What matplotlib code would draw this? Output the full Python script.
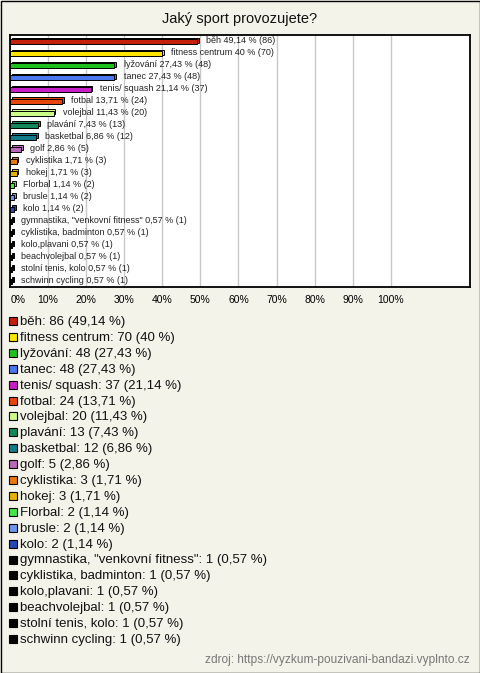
import matplotlib
matplotlib.use("Agg")
import matplotlib.pyplot as plt
from matplotlib.patches import Rectangle
from matplotlib.transforms import ScaledTranslation

plt.rcParams['font.family'] = ['Liberation Sans', 'DejaVu Sans']

categories = ['běh', 'fitness centrum', 'lyžování', 'tanec', 'tenis/ squash', 'fotbal',
              'volejbal', 'plavání', 'basketbal', 'golf', 'cyklistika', 'hokej',
              'Florbal', 'brusle', 'kolo', 'gymnastika, "venkovní fitness"',
              'cyklistika, badminton', 'kolo,plavani', 'beachvolejbal',
              'stolní tenis, kolo', 'schwinn cycling']
counts = [86, 70, 48, 48, 37, 24, 20, 13, 12, 5, 3, 3, 2, 2, 2, 1, 1, 1, 1, 1, 1]
percents = [49.14, 40, 27.43, 27.43, 21.14, 13.71, 11.43, 7.43, 6.86, 2.86, 1.71, 1.71,
            1.14, 1.14, 1.14, 0.57, 0.57, 0.57, 0.57, 0.57, 0.57]
colors = ['#C4200C', '#FFE400', '#1EC01E', '#4A78EE', '#C81EC8', '#E8440E',
          '#CCFF88', '#14875A', '#137A8A', '#BB66BB', '#E87810', '#E8B000',
          '#44E844', '#6C98E8', '#2448B0'] + ['#000000'] * 6
xticks = [0, 10, 20, 30, 40, 50, 60, 70, 80, 90, 100]


def fmt(p):
    s = ('%.2f' % p).rstrip('0').rstrip('.')
    return s.replace('.', ',')


W, H = 480, 673
bg = '#F4F3EA'
fig = plt.figure(figsize=(W / 100, H / 100), dpi=100, facecolor=bg)

fig.text(240 / W, 1 - 19 / H, 'Jaký sport provozujete?', ha='center', va='center',
         fontsize=10.5, color='#111111')

ax = fig.add_axes([10 / W, 1 - 287 / H, 460 / W, 252 / H])
ax.set_facecolor('white')
n = len(categories)
ys = list(range(n))
for i in ys:
    # back face for the 3D look
    ax.barh(i - 0.12, percents[i], left=0.5, height=0.42, color=colors[i],
            edgecolor='black', linewidth=0.7, zorder=2)
    ax.barh(i, percents[i], height=0.42, color=colors[i], edgecolor='black',
            linewidth=0.7, zorder=3)
    ax.text(percents[i] + 2.4, i - 0.05, '%s %s %% (%d)' % (categories[i], fmt(percents[i]), counts[i]),
            va='center', ha='left', fontsize=6.5, color='#222222', zorder=4)

ax.set_xlim(0, 120.8)
ax.set_ylim(n - 0.5, -0.55)
ax.set_xticks(xticks)
ax.set_xticklabels(['%d%%' % t for t in xticks], fontsize=7.5)
ax.set_yticks([])
ax.tick_params(axis='x', length=0, pad=6)
ax.grid(axis='x', color='#C8C8C8', linewidth=1, zorder=0)
ax.set_axisbelow(True)
first = ax.get_xticklabels()[0]
first.set_transform(first.get_transform() + ScaledTranslation(0.08, 0, fig.dpi_scale_trans))
for s in ax.spines.values():
    s.set_linewidth(1.3)
    s.set_color('black')

# legend list
y0, dy = 322, 15.9
for i in ys:
    y = y0 + i * dy
    fig.add_artist(Rectangle((9 / W, 1 - (y + 3) / H), 8 / W, 8 / H,
                             facecolor=colors[i], edgecolor='black', linewidth=0.8,
                             transform=fig.transFigure))
    fig.text(20 / W, 1 - y / H, '%s: %d (%s %%)' % (categories[i], counts[i], fmt(percents[i])),
             ha='left', va='center', fontsize=9.5, color='#111111')

fig.text(470 / W, 1 - 660 / H, 'zdroj: https://vyzkum-pouzivani-bandazi.vyplnto.cz',
         ha='right', va='center', fontsize=8.6, color='#777777')

fig.add_artist(Rectangle((0.5 / W, 0.5 / H), (W - 1) / W, (H - 1) / H, fill=False,
                         edgecolor='black', linewidth=1, transform=fig.transFigure))

fig.savefig('out.png', dpi=100, facecolor=bg)
